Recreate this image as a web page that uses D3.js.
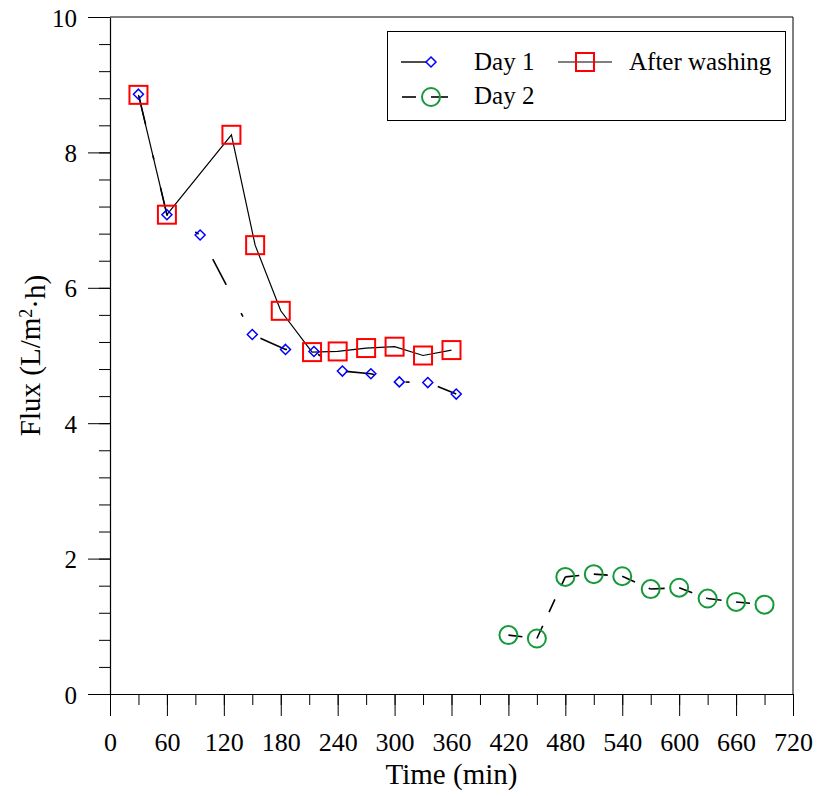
<!DOCTYPE html>
<html>
<head>
<meta charset="utf-8">
<script src="https://cdn.jsdelivr.net/npm/d3@7"></script>
<style>
  html, body { margin: 0; padding: 0; background: #fff; }
  svg { display: block; }
  text { font-family: "Liberation Serif", "Times New Roman", serif; fill: #000; }
</style>
</head>
<body>
<svg id="chart" width="818" height="796"></svg>
<script>
// ---- data ----
const day1Time = [30, 60, 95, 150, 185, 215, 245, 275, 305, 335, 365];
const day1Flux = [8.86, 7.08, 6.78, 5.31, 5.09, 5.06, 4.77, 4.73, 4.61, 4.60, 4.43];
const washTime = [30, 60, 128, 153, 180, 213, 240, 270, 300, 330, 360];
const washFlux = [8.85, 7.08, 8.26, 6.63, 5.66, 5.05, 5.06, 5.11, 5.13, 5.00, 5.08];
const day2Time = [420, 450, 480, 510, 540, 570, 600, 630, 660, 690];
const day2Flux = [0.87, 0.82, 1.73, 1.77, 1.74, 1.55, 1.57, 1.41, 1.36, 1.32];
const xTicks = [0, 60, 120, 180, 240, 300, 360, 420, 480, 540, 600, 660, 720];
const yTicks = [0, 2, 4, 6, 8, 10];
const seriesNames = ["Day 1", "After washing", "Day 2"];
const xTitle = "Time (min)";

(function () {
// ---- layout ----
const svg = d3.select("#chart");
const pL = 110, pR = 793, pT = 17, pB = 694;
const x = d3.scaleLinear().domain([0, 720]).range([pL, pR]);
const y = d3.scaleLinear().domain([0, 10]).range([pB, pT]);

const blue = "#0000ff", red = "#ff0000", green = "#16993a";
const serif = '"Liberation Serif", "Times New Roman", serif';

// minor ticks
const xMinor = d3.range(0, 721, 30);
const yMinor = d3.range(0, 10.001, 0.4).map(v => +v.toFixed(2));

svg.append("g").attr("transform", `translate(0,${pB})`)
  .call(d3.axisBottom(x).tickValues(xMinor).tickSize(11).tickSizeOuter(0).tickFormat(""))
  .call(g => g.select(".domain").remove())
  .call(g => g.selectAll("line").attr("stroke", "#000"));
svg.append("g").attr("transform", `translate(${pL},0)`)
  .call(d3.axisLeft(y).tickValues(yMinor).tickSize(11).tickSizeOuter(0).tickFormat(""))
  .call(g => g.select(".domain").remove())
  .call(g => g.selectAll("line").attr("stroke", "#000"));

// major axes
const xAxis = svg.append("g").attr("transform", `translate(0,${pB})`)
  .call(d3.axisBottom(x).tickValues(xTicks).tickSize(22).tickSizeOuter(0).tickPadding(17).tickFormat(d3.format("d")));
xAxis.attr("font-family", null);
xAxis.selectAll("text").style("font-size", "26px").style("font-family", serif);
const yAxis = svg.append("g").attr("transform", `translate(${pL},0)`)
  .call(d3.axisLeft(y).tickValues(yTicks).tickSize(22).tickSizeOuter(0).tickPadding(11).tickFormat(d3.format("d")));
yAxis.attr("font-family", null);
yAxis.selectAll("text").style("font-size", "25px").style("font-family", serif).attr("dy", "0.36em");
[xAxis, yAxis].forEach(g => {
  g.selectAll("line").attr("stroke", "#000");
  g.select(".domain").attr("stroke", "#000").attr("stroke-width", 1.2);
});

// frame top & right
svg.append("line").attr("x1", pL).attr("x2", pR).attr("y1", pT).attr("y2", pT).attr("stroke", "#000");
svg.append("line").attr("x1", pR).attr("x2", pR).attr("y1", pT).attr("y2", pB).attr("stroke", "#000");

// axis titles
svg.append("text").attr("x", (pL + pR) / 2).attr("y", 784).attr("text-anchor", "middle")
  .style("font-size", "29px").text(xTitle);
const yt = svg.append("text").attr("transform", `translate(40,${(pT + pB) / 2}) rotate(-90)`)
  .attr("text-anchor", "middle").style("font-size", "29px");
yt.append("tspan").text("Flux (L/m");
yt.append("tspan").attr("dy", "-0.45em").style("font-size", "18px").text("2");
yt.append("tspan").attr("dy", "0.45em").text("·h)");

// ---- lines ----
const day1 = day1Time.map((t, i) => [t, day1Flux[i]]);
const wash = washTime.map((t, i) => [t, washFlux[i]]);
const day2 = day2Time.map((t, i) => [t, day2Flux[i]]);
const line = d3.line().x(d => x(d[0])).y(d => y(d[1]));

svg.append("path").datum(wash).attr("d", line).attr("fill", "none")
  .attr("stroke", "#000").attr("stroke-width", 1.2);
svg.append("path").datum(day1).attr("d", line).attr("fill", "none")
  .attr("stroke", "#000").attr("stroke-width", 1.6)
  .attr("stroke-dasharray", "29,32,4,29").attr("stroke-dashoffset", -2);
// Day 2: dash pattern restarts at every point
for (let i = 0; i < day2.length - 1; i++) {
  svg.append("path").datum([day2[i], day2[i + 1]]).attr("d", line).attr("fill", "none")
    .attr("stroke", "#000").attr("stroke-width", 1.6).attr("stroke-dasharray", "14,15");
}

// ---- markers ----
const diamond = s => `M0,${-s}L${s},0L0,${s}L${-s},0Z`;
svg.append("g").selectAll("path").data(day1).join("path")
  .attr("d", diamond(5)).attr("transform", d => `translate(${x(d[0])},${y(d[1])})`)
  .attr("fill", "none").attr("stroke", blue).attr("stroke-width", 1.5);
svg.append("g").selectAll("rect").data(wash).join("rect")
  .attr("x", d => x(d[0]) - 9).attr("y", d => y(d[1]) - 9).attr("width", 18).attr("height", 18)
  .attr("fill", "none").attr("stroke", red).attr("stroke-width", 2);
svg.append("g").selectAll("circle").data(day2).join("circle")
  .attr("cx", d => x(d[0])).attr("cy", d => y(d[1])).attr("r", 9)
  .attr("fill", "none").attr("stroke", green).attr("stroke-width", 2);

// ---- legend ----
const lg = svg.append("g");
lg.append("rect").attr("x", 387.5).attr("y", 31.5).attr("width", 398).attr("height", 89)
  .attr("fill", "#fff").attr("stroke", "#000").attr("stroke-width", 1);
// Day 1
lg.append("line").attr("x1", 401).attr("x2", 426).attr("y1", 62).attr("y2", 62).attr("stroke", "#000").attr("stroke-width", 1.4);
lg.append("path").attr("d", diamond(5)).attr("transform", "translate(431,62)").attr("fill", "none").attr("stroke", blue).attr("stroke-width", 1.5);
lg.append("text").attr("x", 474).attr("y", 70).style("font-size", "25px").text(seriesNames[0]);
// After washing
lg.append("line").attr("x1", 558).attr("x2", 612).attr("y1", 62).attr("y2", 62).attr("stroke", "#000").attr("stroke-width", 1.2);
lg.append("rect").attr("x", 576).attr("y", 53).attr("width", 18).attr("height", 18).attr("fill", "none").attr("stroke", red).attr("stroke-width", 2);
lg.append("text").attr("x", 629).attr("y", 70).style("font-size", "25px").text(seriesNames[1]);
// Day 2
lg.append("line").attr("x1", 402).attr("x2", 416).attr("y1", 97).attr("y2", 97).attr("stroke", "#000").attr("stroke-width", 1.6);
lg.append("line").attr("x1", 431).attr("x2", 448).attr("y1", 97).attr("y2", 97).attr("stroke", "#000").attr("stroke-width", 1.6);
lg.append("circle").attr("cx", 431).attr("cy", 97).attr("r", 9).attr("fill", "none").attr("stroke", green).attr("stroke-width", 2);
lg.append("text").attr("x", 474).attr("y", 104).style("font-size", "25px").text(seriesNames[2]);
})();
</script>
</body>
</html>
